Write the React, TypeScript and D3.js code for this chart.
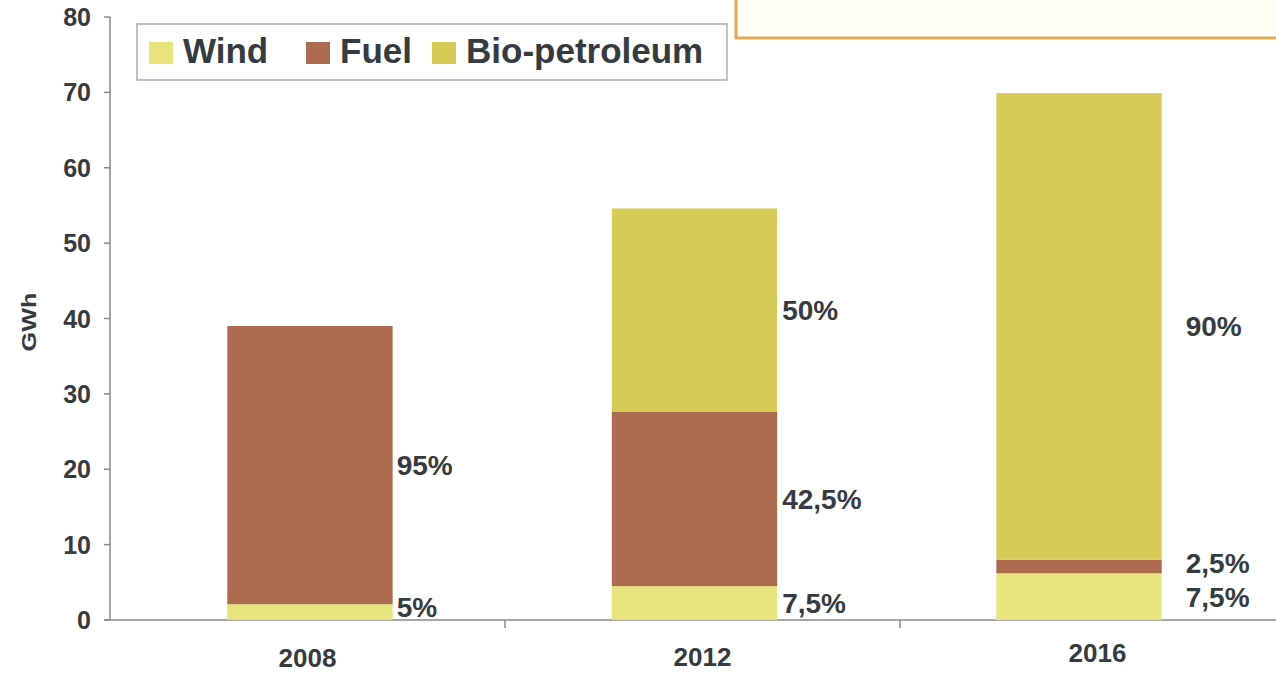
import React from 'react';
import * as d3 from 'd3';

const years = ['2008', '2012', '2016'];
const series = ['Wind', 'Fuel', 'Bio-petroleum'];
const wind = [2.1, 4.5, 6.2];
const fuel = [36.9, 23.1, 1.8];
const bio = [0, 27.0, 61.9];
const shareLabels = [
    ['5%', '95%', ''],
    ['7,5%', '42,5%', '50%'],
    ['7,5%', '2,5%', '90%'],
];
const yTicks = [0, 10, 20, 30, 40, 50, 60, 70, 80];

const colors = ['#e7e37d', '#ac6a4f', '#d6ca58'];
const textColor = '#353b40';
const axisColor = '#8a8a8a';

const width = 1276;
const height = 673;
const margin = {left: 110, top: 17, bottom: 53};

export default function App() {
    const y = d3.scaleLinear().domain([0, 80]).range([height - margin.bottom, margin.top]);
    // bars and category slots
    const x = d3.scaleBand().domain(years).range([margin.left, 1279]).paddingInner(0.57).paddingOuter(0.305);
    const xOuter = d3.scaleBand().domain(years).range([margin.left, 1295]);

    const rows = years.map((yr, i) => ({year: yr, Wind: wind[i], Fuel: fuel[i], 'Bio-petroleum': bio[i]}));
    const stacked = d3.stack().keys(series)(rows as any);

    const labelY = (i: number, k: number) => {
        const seg = stacked[k][i];
        if (k === 0) return Math.min(y((seg[0] + seg[1]) / 2), y(0) - 13);
        if (i === 2 && k === 1) return y(seg[1]) + 3;
        return y((seg[0] + seg[1]) / 2);
    };
    const labelGap = [4, 5, 24];

    const font = '"Liberation Sans", Arial, sans-serif';
    const y0 = y(0);

    return (
        <div style={{position: 'fixed', left: 0, top: 0}}>
            <svg width={width} height={height} style={{display: 'block', background: '#fff'}} fontFamily={font}>
                {/* note box, top right, cut off */}
                <rect x={736} y={-20} width={600} height={58} fill="#fffdf6" stroke="#e2a85a" strokeWidth={3} />

                {/* axes */}
                <line x1={margin.left} x2={margin.left} y1={y(80)} y2={y0} stroke={axisColor} strokeWidth={1.5} />
                {yTicks.map((t) => (
                    <g key={t}>
                        <line x1={margin.left - 6} x2={margin.left} y1={y(t)} y2={y(t)} stroke={axisColor} strokeWidth={1.5} />
                        <text x={91} y={y(t)} dy="0.36em" textAnchor="end" fontSize={25} fontWeight="bold" fill={textColor}>{t}</text>
                    </g>
                ))}
                <line x1={margin.left - 6} x2={width} y1={y0} y2={y0} stroke={axisColor} strokeWidth={1.5} />
                {years.slice(1).map((yr) => (
                    <line key={yr} x1={xOuter(yr)!} x2={xOuter(yr)!} y1={y0} y2={y0 + 8} stroke={axisColor} strokeWidth={1.5} />
                ))}
                <text transform={`translate(36, 322) rotate(-90) scale(1.2, 1)`} textAnchor="middle" fontSize={21} fontWeight="bold" fill={textColor}>GWh</text>

                {/* bars */}
                {stacked.map((s, k) => (
                    <g key={series[k]} fill={colors[k]}>
                        {s.map((d, i) => (
                            <rect key={i} x={x(years[i])!} width={x.bandwidth()} y={y(d[1])} height={Math.max(0, y(d[0]) - y(d[1]))} />
                        ))}
                    </g>
                ))}

                {/* share labels */}
                {years.map((yr, i) => shareLabels[i].map((lab, k) => lab && (
                    <text key={yr + k} x={x(yr)! + x.bandwidth() + labelGap[i]} y={labelY(i, k)} dy="0.36em" fontSize={28} fontWeight="bold" fill={textColor}>{lab}</text>
                )))}

                {/* year labels */}
                {years.map((yr, i) => (
                    <text key={yr} x={xOuter(yr)! + xOuter.bandwidth() / 2} y={[667, 666, 662][i]} textAnchor="middle" fontSize={26} fontWeight="bold" fill={textColor}>{yr}</text>
                ))}

                {/* legend */}
                <rect x={137} y={24} width={590} height={56} fill="#fff" stroke="#999" strokeWidth={1.2} />
                {series.map((name, k) => {
                    const lx = [149, 306, 432][k];
                    return (
                        <g key={name}>
                            <rect x={lx} y={42} width={24} height={22} fill={colors[k]} />
                            <text x={lx + 34} y={63} fontSize={35} fontWeight="bold" fill={textColor}>{name}</text>
                        </g>
                    );
                })}
            </svg>
        </div>
    );
}
